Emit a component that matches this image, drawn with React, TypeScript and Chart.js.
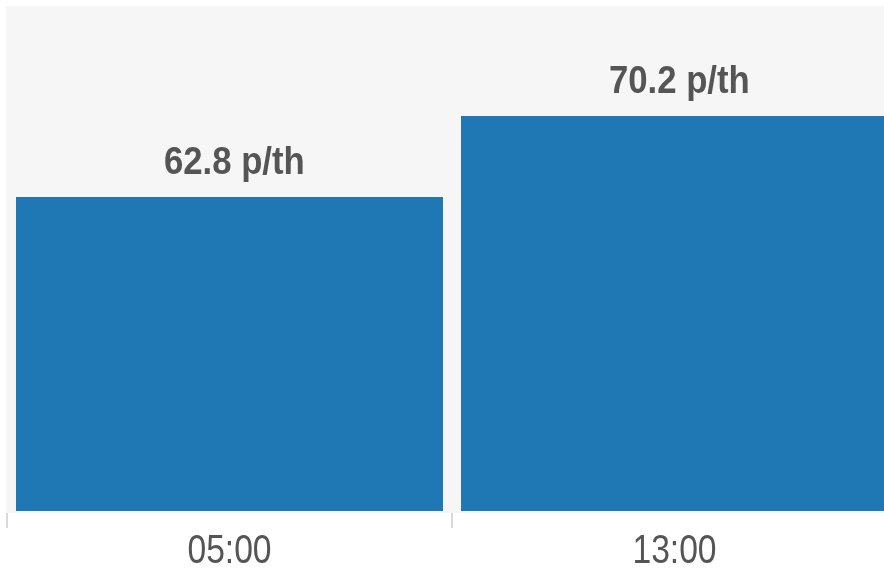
import React, { useEffect, useRef } from "react";
import { Chart, registerables } from "chart.js";

Chart.register(...registerables);

const categories: string[] = ["05:00", "13:00"];
const values: number[] = [62.8, 70.2];
const unitSuffix = " p/th";
const yMin = 33.93;
const yMax = 80.25;
const barBase = 34.11;

const FONT = "'Liberation Sans', Arial, sans-serif";

const backgroundPlugin = {
  id: "plotBackground",
  beforeDraw(chart: any) {
    const { ctx, chartArea } = chart;
    ctx.save();
    ctx.fillStyle = "#f6f6f6";
    ctx.fillRect(chartArea.left - 1, chartArea.top, chartArea.right - chartArea.left + 2, chartArea.bottom - chartArea.top);
    ctx.restore();
  },
};

// narrow text: Liberation Sans compressed horizontally (Arial Narrow look)
function drawNarrow(ctx: CanvasRenderingContext2D, text: string, x: number, y: number, sx: number) {
  ctx.save();
  ctx.translate(x, y);
  ctx.scale(sx, 1);
  ctx.fillText(text, 0, 0);
  ctx.restore();
}

const valueLabelPlugin = {
  id: "valueLabels",
  afterDatasetsDraw(chart: any) {
    const { ctx } = chart;
    const meta = chart.getDatasetMeta(0);
    ctx.save();
    ctx.fillStyle = "#555555";
    ctx.font = `bold 38px ${FONT}`;
    ctx.textAlign = "center";
    ctx.textBaseline = "alphabetic";
    meta.data.forEach((bar: any, i: number) => {
      const v = chart.data.datasets[0].data[i] as number;
      drawNarrow(ctx, ` ${v.toFixed(1)}${unitSuffix}`, bar.x, bar.y - 23, 0.914);
    });
    ctx.restore();
  },
};

const tickLabelPlugin = {
  id: "narrowTickLabels",
  afterDraw(chart: any) {
    const { ctx } = chart;
    const xs = chart.scales.x;
    ctx.save();
    ctx.fillStyle = "#555555";
    ctx.font = `41px ${FONT}`;
    ctx.textAlign = "center";
    ctx.textBaseline = "alphabetic";
    xs.ticks.forEach((t: any, i: number) => {
      const label = String(xs.getLabelForValue(t.value));
      drawNarrow(ctx, label, xs.getPixelForTick(i), xs.top + 50, 0.82);
    });
    ctx.restore();
  },
};

export default function App() {
  const canvasRef = useRef<HTMLCanvasElement | null>(null);

  useEffect(() => {
    const canvas = canvasRef.current;
    if (!canvas) return;
    const chart = new Chart(canvas, {
      type: "bar",
      data: {
        labels: categories,
        datasets: [
          {
            data: values,
            backgroundColor: "#1f77b4",
            borderWidth: 0,
            base: barBase,
            categoryPercentage: 1,
            barPercentage: 0.9596,
          } as any,
        ],
      },
      options: {
        responsive: false,
        animation: false,
        devicePixelRatio: 1,
        layout: { padding: { left: 7, top: 6, right: 7, bottom: 0 } },
        plugins: {
          legend: { display: false },
          tooltip: { enabled: false },
        },
        scales: {
          x: {
            type: "category",
            offset: true,
            border: { display: false },
            grid: {
              offset: true,
              drawOnChartArea: false,
              drawTicks: true,
              tickLength: 15,
              color: "#d9d9d9",
              lineWidth: 2,
            },
            ticks: {
              display: false,
            },
            afterFit: (scale: any) => {
              scale.height = 55;
            },
          },
          y: {
            display: false,
            min: yMin,
            max: yMax,
          },
        },
      },
      plugins: [backgroundPlugin, valueLabelPlugin, tickLabelPlugin],
    });
    return () => chart.destroy();
  }, []);

  return (
    <div
      style={{
        position: "fixed",
        left: 0,
        top: 0,
        width: 884,
        height: 568,
        overflow: "hidden",
        background: "#ffffff",
      }}
    >
      <canvas ref={canvasRef} width={904} height={568} style={{ display: "block" }} />
    </div>
  );
}
